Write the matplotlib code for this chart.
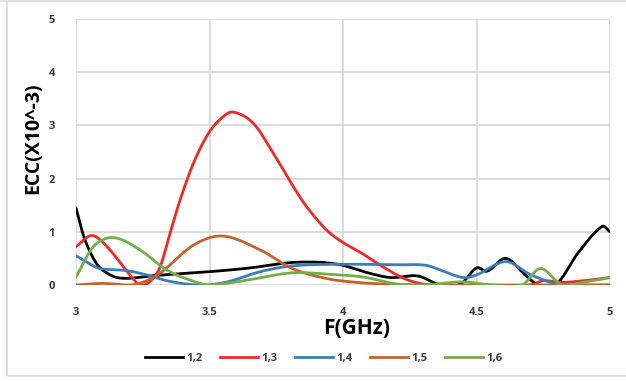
import numpy as np
import matplotlib
matplotlib.use("Agg")
import matplotlib.pyplot as plt
from matplotlib.lines import Line2D

# Isolation (ECC) between port 1 and the other ports, read per series
labels = ["1,2", "1,3", "1,4", "1,5", "1,6"]
colors = ["#000000", "#f02828", "#3a7dbf", "#c4622d", "#72ae4a"]

f_12 = [3.0, 3.03, 3.065, 3.1, 3.165, 3.3, 3.5, 3.65, 3.8, 3.9, 3.95, 4.0, 4.1, 4.18,
        4.28, 4.36, 4.44, 4.5, 4.54, 4.61, 4.68, 4.73, 4.8, 4.88, 4.97, 5.0]
ecc_12 = [1.45, 0.9, 0.5, 0.28, 0.13, 0.18, 0.25, 0.32, 0.42, 0.43, 0.41, 0.37, 0.22, 0.14,
          0.17, 0.01, 0.02, 0.32, 0.26, 0.5, 0.2, 0.0, 0.02, 0.6, 1.1, 1.0]

f_13 = [3.0, 3.06, 3.12, 3.2, 3.24, 3.28, 3.315, 3.352, 3.39, 3.44, 3.496, 3.55, 3.59,
        3.664, 3.74, 3.814, 3.864, 3.939, 4.0, 4.07, 4.14, 4.24, 4.33, 4.5, 4.7, 4.75,
        4.82, 4.9, 5.0]
ecc_13 = [0.72, 0.93, 0.7, 0.2, 0.0, 0.08, 0.34, 0.97, 1.6, 2.29, 2.85, 3.16, 3.25,
          3.04, 2.47, 1.85, 1.47, 1.03, 0.8, 0.6, 0.37, 0.1, 0.0, 0.0, 0.0, 0.08,
          0.05, 0.08, 0.14]

f_14 = [3.0, 3.05, 3.09, 3.19, 3.265, 3.35, 3.46, 3.56, 3.69, 3.81, 4.0, 4.2, 4.31,
        4.38, 4.45, 4.5, 4.61, 4.7, 4.8, 4.9, 5.0]
ecc_14 = [0.55, 0.4, 0.31, 0.27, 0.19, 0.07, 0.0, 0.05, 0.25, 0.36, 0.39, 0.38, 0.37,
          0.25, 0.14, 0.19, 0.44, 0.2, 0.02, 0.0, 0.0]

f_15 = [3.0, 3.1, 3.2, 3.25, 3.315, 3.44, 3.55, 3.69, 3.81, 3.94, 4.05, 4.15, 4.3,
        4.6, 5.0]
ecc_15 = [0.0, 0.03, 0.0, 0.05, 0.22, 0.75, 0.92, 0.66, 0.31, 0.12, 0.05, 0.02, 0.0,
          0.0, 0.0]

f_16 = [3.0, 3.065, 3.14, 3.24, 3.34, 3.44, 3.5, 3.64, 3.81, 3.95, 4.075, 4.2, 4.3,
        4.45, 4.55, 4.67, 4.74, 4.82, 4.9, 5.0]
ecc_16 = [0.15, 0.72, 0.89, 0.66, 0.28, 0.07, 0.0, 0.09, 0.23, 0.2, 0.15, 0.02, 0.0,
          0.06, 0.0, 0.0, 0.31, 0.0, 0.05, 0.14]

series = [(f_12, ecc_12), (f_13, ecc_13), (f_14, ecc_14), (f_15, ecc_15), (f_16, ecc_16)]

x_ticks = [3, 3.5, 4, 4.5, 5]
x_tick_labels = ["3", "3.5", "4", "4.5", "5"]
y_ticks = [0, 1, 2, 3, 4, 5]


def smooth(x, y, n=30):
    """Cubic Hermite curve through the points, Excel-style smoothed line"""
    x = np.asarray(x, float)
    y = np.asarray(y, float)
    m = np.zeros_like(y)
    m[1:-1] = (y[2:] - y[:-2]) / (x[2:] - x[:-2])
    m[0] = (y[1] - y[0]) / (x[1] - x[0])
    m[-1] = (y[-1] - y[-2]) / (x[-1] - x[-2])
    xs, ys = [], []
    for i in range(len(x) - 1):
        h = x[i + 1] - x[i]
        t = np.linspace(0, 1, n, endpoint=False)
        h00 = 2 * t**3 - 3 * t**2 + 1
        h10 = t**3 - 2 * t**2 + t
        h01 = -2 * t**3 + 3 * t**2
        h11 = t**3 - t**2
        xs.append(x[i] + t * h)
        ys.append(h00 * y[i] + h10 * h * m[i] + h01 * y[i + 1] + h11 * h * m[i + 1])
    xs.append([x[-1]])
    ys.append([y[-1]])
    return np.concatenate(xs), np.concatenate(ys)


plt.rcParams['font.family'] = ['Open Sans', 'DejaVu Sans']

fig = plt.figure(figsize=(6.26, 3.81), dpi=100)
ax = fig.add_axes([76 / 626, 1 - 285 / 381, 534 / 626, 266 / 381])

for (f, e), c in zip(series, colors):
    xs, ys = smooth(f, e)
    ax.plot(xs, ys, color=c, linewidth=2.0, solid_capstyle='round', zorder=3)

ax.set_xlim(3, 5)
ax.set_ylim(0, 5)
ax.set_xticks(x_ticks)
ax.set_xticklabels(x_tick_labels)
ax.set_yticks(y_ticks)
ax.grid(True, color="#d9d9d9", linewidth=1.3, zorder=0)
ax.set_axisbelow(True)
for s in ax.spines.values():
    s.set_visible(False)
ax.tick_params(length=0, labelsize=8, labelcolor="#3a3a3a")
ax.tick_params(axis='y', pad=15)
ax.tick_params(axis='x', pad=16)
for lbl in ax.get_xticklabels() + ax.get_yticklabels():
    lbl.set_fontweight('bold')

fig.text(33 / 626, 1 - 138 / 381, "ECC(X10^-3)", rotation=90, ha='center', va='center',
         fontsize=14, fontweight='bold', color="#000000")
fig.text(357 / 626, 1 - 328 / 381, "F(GHz)", ha='center', va='center',
         fontsize=15, fontweight='bold', color="#000000")

handles = [Line2D([0], [0], color=c, linewidth=2.0) for c in colors]
fig.legend(handles, labels, loc='center', bbox_to_anchor=(324 / 626, 1 - 358 / 381),
           ncol=5, frameon=False, handlelength=3.4, handletextpad=0.3, columnspacing=1.6,
           prop={'size': 8, 'weight': 'bold'}, labelcolor="#3a3a3a")

# chart area outline
fig.patches.append(plt.Rectangle((7 / 626, 1 - 376 / 381), 1.0, 375 / 381,
                                 transform=fig.transFigure, fill=False,
                                 edgecolor="#d9d9d9", linewidth=1.2))
fig.add_artist(Line2D([0, 1], [1 - 0.7 / 381] * 2, transform=fig.transFigure,
                      color="#e0e0e0", linewidth=1.2))

fig.savefig("out.png", dpi=100)
